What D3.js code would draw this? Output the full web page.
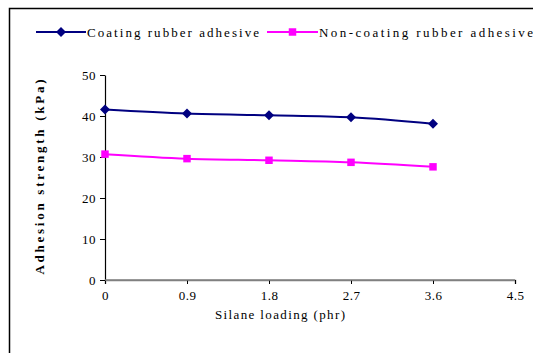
<!DOCTYPE html>
<html><head><meta charset="utf-8">
<script src="https://cdn.jsdelivr.net/npm/d3@7"></script>
<style>body{margin:0;background:#fff}svg{display:block}svg text{font-family:'Times New Roman',Times,'Liberation Serif','DejaVu Serif',serif;fill:#000}</style>
</head><body>
<svg id="c" width="533" height="353"></svg>
<script>
const xTicks = [0, 0.9, 1.8, 2.7, 3.6, 4.5];
const xTickLabels = ["0", "0.9", "1.8", "2.7", "3.6", "4.5"];
const yTicks = [0, 10, 20, 30, 40, 50];
const silane = [0, 0.9, 1.8, 2.7, 3.6];
const coating = [41.6, 40.6, 40.2, 39.7, 38.1];
const nonCoating = [30.7, 29.6, 29.2, 28.7, 27.6];
const seriesNames = ["Coating rubber adhesive", "Non-coating rubber adhesive"];
const xTitle = "Silane loading (phr)";
const yTitle = "Adhesion strength (kPa)";

const svg = d3.select("#c");
const x = d3.scaleLinear().domain([0, 4.5]).range([105, 515]);
const y = d3.scaleLinear().domain([0, 50]).range([280, 75]);

svg.append("path").attr("d", "M9.5,353V8.5H533").attr("fill","none").attr("stroke","#000").attr("stroke-width",1.5);

const xa = svg.append("g").attr("transform","translate(0,280)")
  .call(d3.axisBottom(x).tickValues(xTicks).tickFormat((d,i)=>xTickLabels[i]).tickSize(4).tickSizeOuter(4).tickPadding(7));
xa.attr("font-family", null);
xa.select(".domain").attr("stroke","#808080").attr("stroke-width",1.5);
xa.selectAll(".tick line").attr("stroke","#000");
xa.selectAll("text").attr("font-size",13).attr("letter-spacing","0.5px");

const ya = svg.append("g").attr("transform","translate(105,0)")
  .call(d3.axisLeft(y).tickValues(yTicks).tickSize(5).tickSizeOuter(0).tickPadding(4));
ya.attr("font-family", null);
ya.select(".domain").attr("stroke","#000").attr("stroke-width",1.2);
ya.selectAll("text").attr("font-size",13).attr("letter-spacing","0.5px");
svg.append("line").attr("x1",x(0)).attr("x2",x(4.5)).attr("y1",280).attr("y2",280).attr("stroke","#808080").attr("stroke-width",1.5);

svg.append("text").attr("x",280).attr("y",319).attr("text-anchor","middle").attr("font-size",13).attr("textLength",130).attr("lengthAdjust","spacing").text(xTitle);
svg.append("text").attr("transform","translate(44,177) rotate(-90)").attr("text-anchor","middle").attr("font-size",13).attr("font-weight","bold").attr("textLength",195).attr("lengthAdjust","spacing").text(yTitle);

const line = d3.line().x(d=>x(d[0])).y(d=>y(d[1])).curve(d3.curveMonotoneX);
const cols = ["#000080", "#FF00FF"];
const data = [coating, nonCoating];
data.forEach((vals, si) => {
  const pts = silane.map((s,i)=>[s, vals[i]]);
  svg.append("path").attr("d", line(pts)).attr("fill","none").attr("stroke",cols[si]).attr("stroke-width",2);
  svg.selectAll(null).data(pts).join("path")
    .attr("d", d3.symbol().type(d3.symbolSquare).size(si===0 ? 50 : 56)())
    .attr("transform", d=> si===0 ? `translate(${x(d[0])},${y(d[1])}) rotate(45)` : `translate(${x(d[0])},${y(d[1])})`)
    .attr("fill", cols[si]);
});

const leg = [{x1:36,x2:86,tx:87,tl:172},{x1:267,x2:318,tx:319,tl:214}];
leg.forEach((l, si) => {
  svg.append("line").attr("x1",l.x1).attr("x2",l.x2).attr("y1",32).attr("y2",32).attr("stroke",cols[si]).attr("stroke-width",2);
  const cx = (l.x1+l.x2)/2;
  svg.append("path").attr("d", d3.symbol().type(d3.symbolSquare).size(si===0?50:56)())
    .attr("transform", si===0 ? `translate(${cx},32) rotate(45)` : `translate(${cx},32)`).attr("fill",cols[si]);
  svg.append("text").attr("x",l.tx).attr("y",37).attr("font-size",13).attr("textLength",l.tl).attr("lengthAdjust","spacing").text(seriesNames[si]);
});
</script>
</body></html>
